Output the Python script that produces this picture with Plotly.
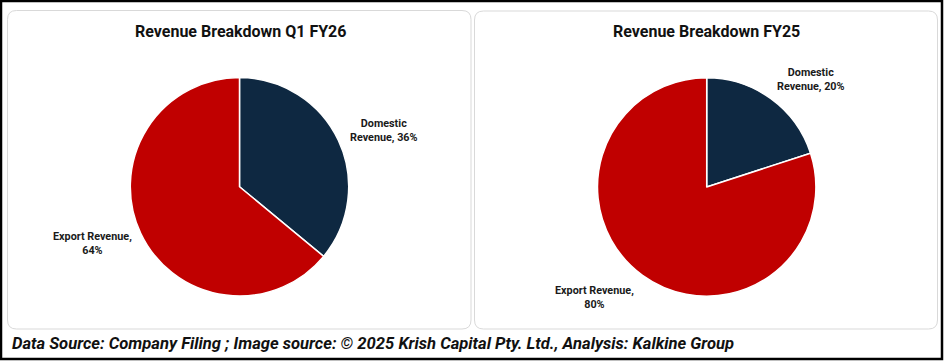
import plotly.graph_objects as go

# ---- data ----
categories = ["Domestic Revenue", "Export Revenue"]
q1fy26_values = [36, 64]
fy25_values = [20, 80]
titles = ["Revenue Breakdown Q1 FY26", "Revenue Breakdown FY25"]
colors = ["#0E2841", "#C00000"]
footer = "Data Source: Company Filing ; Image source: © 2025 Krish Capital Pty. Ltd., Analysis: Kalkine Group"

W, H = 944, 361

def px(x):
    return x / W

def py(y):
    return 1 - y / H

def rrect(x0, y0, x1, y1, r):
    X0, X1 = px(x0), px(x1)
    Y0, Y1 = py(y0), py(y1)
    rx, ry = r / W, r / H
    return (f"M {X0+rx},{Y0} L {X1-rx},{Y0} Q {X1},{Y0} {X1},{Y0-ry} "
            f"L {X1},{Y1+ry} Q {X1},{Y1} {X1-rx},{Y1} "
            f"L {X0+rx},{Y1} Q {X0},{Y1} {X0},{Y1+ry} "
            f"L {X0},{Y0-ry} Q {X0},{Y0} {X0+rx},{Y0} Z")

fig = go.Figure()

pie_domains = [
    dict(x=[px(130.3), px(348.7)], y=[py(296.0), py(77.5)]),
    dict(x=[px(597.5), px(815.9)], y=[py(296.2), py(77.8)]),
]
for vals, dom in zip([q1fy26_values, fy25_values], pie_domains):
    fig.add_trace(go.Pie(
        labels=categories, values=vals, sort=False, direction="clockwise",
        rotation=0, textinfo="none", hoverinfo="label+percent",
        marker=dict(colors=colors, line=dict(color="white", width=1.5)),
        domain=dom, showlegend=False,
    ))

shapes = [
    dict(type="path", path=rrect(7.5, 10.5, 471, 329, 9), xref="paper", yref="paper",
         line=dict(color="#D9D9D9", width=1), layer="below"),
    dict(type="path", path=rrect(474.5, 11, 937.5, 329, 9), xref="paper", yref="paper",
         line=dict(color="#D9D9D9", width=1), layer="below"),
    dict(type="rect", x0=px(1), x1=px(942), y0=py(1), y1=py(359), xref="paper", yref="paper",
         line=dict(color="black", width=2.5)),
]

def lbl(cat, v, split_after_first):
    words = cat.split(" ")
    if split_after_first:
        return f"<b>{words[0]}<br>{' '.join(words[1:])}, {v}%</b>"
    return f"<b>{cat},<br>{v}%</b>"

ann_font = dict(family="Roboto, Arial", size=10.8, color="#1A1A1A")
annotations = [
    dict(text=f"<b>{titles[0]}</b>", x=px(240), y=py(31.5), xref="paper", yref="paper",
         showarrow=False, xanchor="center", yanchor="middle",
         font=dict(family="Roboto, Arial", size=16, color="#111111")),
    dict(text=f"<b>{titles[1]}</b>", x=px(706), y=py(31.5), xref="paper", yref="paper",
         showarrow=False, xanchor="center", yanchor="middle",
         font=dict(family="Roboto, Arial", size=16, color="#111111")),
    dict(text=lbl(categories[0], q1fy26_values[0], True), x=px(383.5), y=py(130.5),
         xref="paper", yref="paper", showarrow=False, xanchor="center", yanchor="middle", font=ann_font),
    dict(text=lbl(categories[1], q1fy26_values[1], False), x=px(92), y=py(243.5),
         xref="paper", yref="paper", showarrow=False, xanchor="center", yanchor="middle", font=ann_font),
    dict(text=lbl(categories[0], fy25_values[0], True), x=px(811), y=py(79),
         xref="paper", yref="paper", showarrow=False, xanchor="center", yanchor="middle", font=ann_font),
    dict(text=lbl(categories[1], fy25_values[1], False), x=px(594.5), y=py(297),
         xref="paper", yref="paper", showarrow=False, xanchor="center", yanchor="middle", font=ann_font),
    dict(text=f"<b><i>{footer}</i></b>", x=px(10), y=py(343.5), xref="paper", yref="paper",
         showarrow=False, xanchor="left", yanchor="middle",
         font=dict(family="Roboto, Arial", size=16.6, color="#111111")),
]

fig.update_layout(
    width=W, height=H, margin=dict(l=0, r=0, t=0, b=0),
    paper_bgcolor="white", plot_bgcolor="white",
    shapes=shapes, annotations=annotations,
)

fig.write_html("out.html", config={"displayModeBar": False},
               post_script="document.body.style.margin='0';")
